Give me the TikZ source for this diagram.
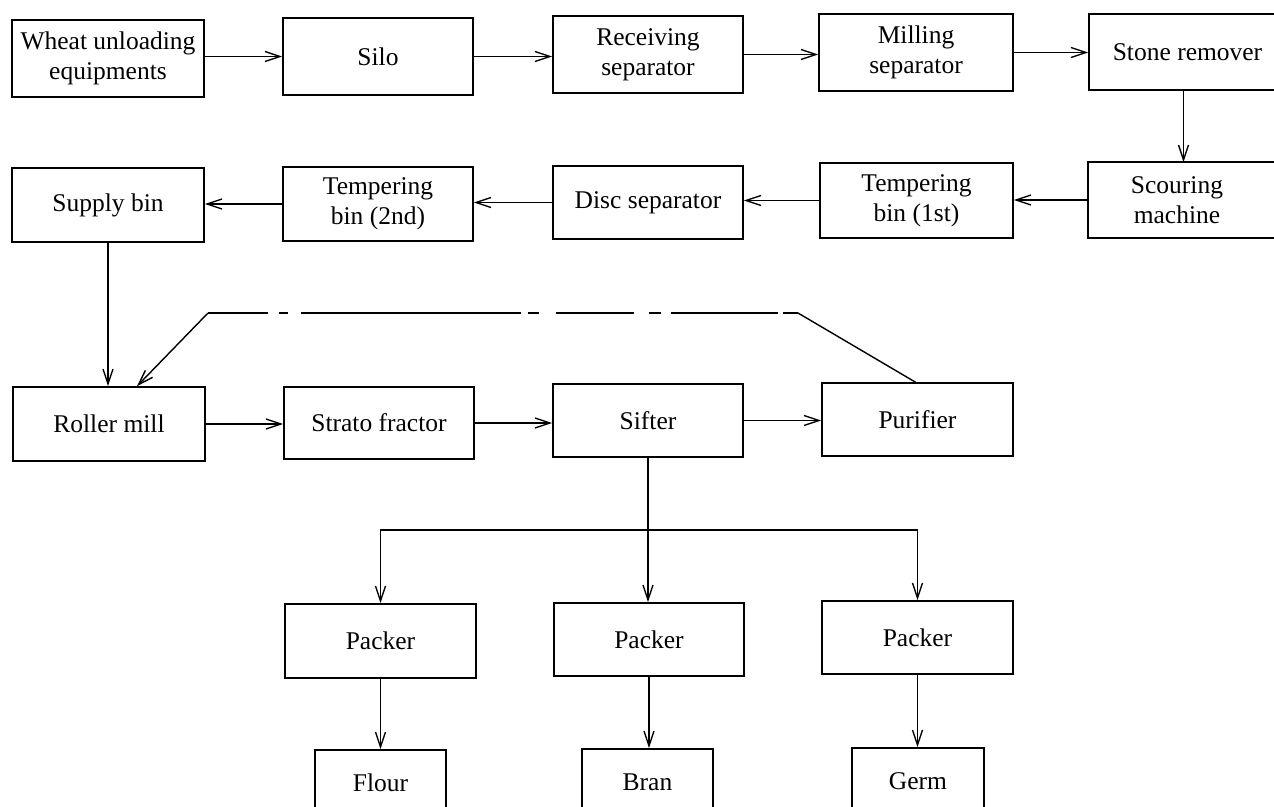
\documentclass[tikz,border=0pt]{standalone}
\usepackage{fontspec}
\setmainfont{Liberation Serif}
\usetikzlibrary{arrows.meta,calc}
\begin{document}
\begin{tikzpicture}[x=1bp,y=-1bp,
  box/.style={draw, line width=1.6bp, inner sep=1bp, align=center,
    font=\fontsize{25.5bp}{30bp}\selectfont},
  openbox/.style={box, draw=none},
  flow/.style={line width=1.4bp, -{Straight Barb[length=15bp,width=10bp]}},
  link/.style={line width=1.4bp},
  feedback/.style={line width=1.4bp,
    dash pattern=on 15bp off 5bp on 107bp off 10bp on 12bp off 15bp on 78bp off 17bp
                 on 11bp off 7bp on 220bp off 13bp on 9bp off 11bp on 60bp off 0bp}]
\useasboundingbox (0,0) rectangle (1274,807);
\clip (0,0) rectangle (1274,807);
\fill[white] (0,0) rectangle (1274,807);

% cleaning line
\node[box, minimum width=192bp, minimum height=77bp] (wheat) at (108,58.5) {Wheat unloading\\equipments};
\node[box, minimum width=190bp, minimum height=77bp] (silo)  at (378,56.5) {Silo};
\node[box, minimum width=190bp, minimum height=77bp] (recv)  at (648,54.5) {Receiving\\separator};
\node[box, minimum width=194bp, minimum height=77bp] (mill)  at (916,52.5) {Milling\\separator};
\node[box, minimum width=197bp, minimum height=76bp] (stone) at (1187.5,52) {Stone remover};

% tempering line
\node[openbox, minimum width=176bp, minimum height=74bp] (scour) at (1177,200) {Scouring\\machine};
\draw[line width=1.6bp] ([xshift=40bp]scour.north east) -- (scour.north west)
  -- (scour.south west) -- ([xshift=40bp]scour.south east);
\node[box, minimum width=193bp, minimum height=75bp] (temp1)  at (916.5,200.5) {Tempering\\bin (1st)};
\node[box, minimum width=190bp, minimum height=73bp] (disc)   at (648,202.5) {Disc separator};
\node[box, minimum width=190bp, minimum height=74bp] (temp2)  at (378,204) {Tempering\\bin (2nd)};
\node[box, minimum width=192bp, minimum height=74bp] (supply) at (108,205) {Supply bin};

% milling line
\node[box, minimum width=192bp, minimum height=74bp] (roller) at (109,424) {Roller mill};
\node[box, minimum width=190bp, minimum height=72bp] (strato) at (379,423) {Strato fractor};
\node[box, minimum width=190bp, minimum height=73bp] (sifter) at (648,420.5) {Sifter};
\node[box, minimum width=191bp, minimum height=73bp] (pur)    at (917.5,419.5) {Purifier};

% packing
\node[box, minimum width=191bp, minimum height=74bp] (pk1) at (380.5,641) {Packer};
\node[box, minimum width=190bp, minimum height=73bp] (pk2) at (649,639.5) {Packer};
\node[box, minimum width=191bp, minimum height=73bp] (pk3) at (917.5,637.5) {Packer};
\node[box, minimum width=131bp, minimum height=66bp] (flour) at (380.5,783) {Flour};
\node[box, minimum width=131bp, minimum height=66bp] (bran)  at (647.5,782) {Bran};
\node[box, minimum width=132bp, minimum height=66bp] (germ)  at (918,781) {Germ};

% connectors
\draw[flow] (wheat.east |- silo.west) -- (silo.west);
\draw[flow] (silo.east) -- (silo.east -| recv.west);
\draw[flow] (recv.east) -- (recv.east -| mill.west);
\draw[flow] (mill.east) -- (mill.east -| stone.west);
\draw[flow] ([xshift=-4bp]stone.south) -- ([xshift=-4bp]stone.south |- scour.north);
\draw[flow] (scour.west) -- (scour.west -| temp1.east);
\draw[flow] (temp1.west) -- (temp1.west -| disc.east);
\draw[flow] (disc.west) -- (disc.west -| temp2.east);
\draw[flow] (temp2.west) -- (temp2.west -| supply.east);
\draw[flow] (supply.south) -- (supply.south |- roller.north);
\draw[flow] (roller.east) -- (roller.east -| strato.west);
\draw[flow] (strato.east) -- (strato.east -| sifter.west);
\draw[flow] (sifter.east) -- (sifter.east -| pur.west);

% return from the purifier to the roller mill
\coordinate (fbA) at (798,313);
\coordinate (fbB) at (208,313);
\draw[link] ([xshift=-2bp]pur.north) -- (fbA);
\draw[feedback] (fbA) -- (fbB);
\draw[flow] (fbB) -- ([xshift=28bp]roller.north);

% split below the sifter
\coordinate (split) at (648,530);
\draw[flow] (sifter.south) -- (sifter.south |- pk2.north);
\draw[flow] (split) -| (pk1.north);
\draw[flow] (split) -| (pk3.north);

\draw[flow] (pk1.south) -- (pk1.south |- flour.north);
\draw[flow] (pk2.south) -- (pk2.south |- bran.north);
\draw[flow] (pk3.south) -- (pk3.south |- germ.north);
\end{tikzpicture}
\end{document}
